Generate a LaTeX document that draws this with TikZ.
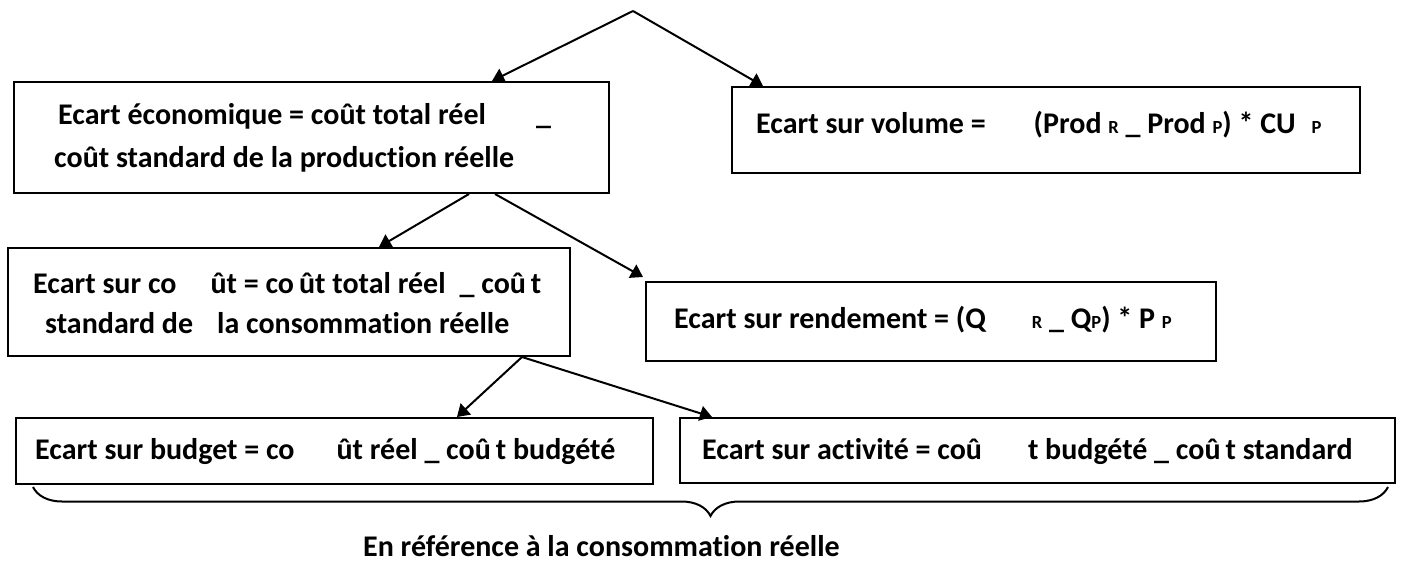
\documentclass[tikz,border=0pt]{standalone}
\usepackage{fontspec}
\setmainfont{Carlito}[Ligatures=NoCommon]
\usetikzlibrary{arrows.meta,decorations.pathreplacing}
\newcommand{\lowsub}[1]{{\fontsize{18.5}{18.5}\selectfont #1}}
\newcommand{\lowdash}{\_}
\begin{document}
\begin{tikzpicture}[x=1pt,y=-1pt,
  box/.style={draw, line width=2pt, rectangle, inner sep=0pt, anchor=north west},
  txt/.style={anchor=base west, inner sep=0pt, font=\fontsize{30}{35}\selectfont\bfseries},
  arr/.style={line width=2pt, -{Triangle[length=12pt,width=15pt]}},
  brace/.style={line width=2pt, decorate, decoration={brace, mirror, amplitude=29pt}}]
\useasboundingbox (0,0) rectangle (1402,564);
% boxes
\node[box, minimum width=595pt, minimum height=111pt] (b1) at (13,81) {};
\node[box, minimum width=628pt, minimum height=86pt] (b2) at (731,86) {};
\node[box, minimum width=562pt, minimum height=108pt] (b3) at (7,247) {};
\node[box, minimum width=570pt, minimum height=79pt] (b4) at (645,281) {};
\node[box, minimum width=637pt, minimum height=66pt] (b5) at (15,417) {};
\node[box, minimum width=715pt, minimum height=65pt] (b6) at (679,417) {};
% texts
\node[txt] (t1a) at (58,125) {Ecart économique = coût total réel\hspace{50pt}\lowdash};
\node[txt] (t1b) at (54,168) {coût standard de la production réelle};
\node[txt] (t2) at (756,134) {Ecart sur volume =\hspace{48pt}(Prod \lowsub{R} \lowdash{} Prod \lowsub{P}) * CU\hspace{16pt}\lowsub{P}};
\node[txt] (t3a) at (33,293) {Ecart sur co\hspace{34pt}ût = co\,ût total réel\hspace{14pt}\lowdash{} coû\,t};
\node[txt] (t3b) at (45,333) {standard de\hspace{24pt}la consommation réelle};
\node[txt] (t4) at (674,328) {Ecart sur rendement = (Q\hspace{46pt}\lowsub{R} \lowdash{} Q\lowsub{P}) * P \lowsub{P}};
\node[txt] (t5) at (35,459) {Ecart sur budget = co\hspace{42pt}ût réel \lowdash{} coû\,t budgété};
\node[txt] (t6) at (702,459) {Ecart sur activité = coû\hspace{46pt}t budgété \lowdash{} coû\,t standard};
\node[txt] (t7) at (363,556) {En référence à la consommation réelle};
% connectors
\coordinate (top) at (633,11);
\draw[arr] (top) -- ([xshift=479pt]b1.north west);
\draw[arr] (top) -- ([xshift=32pt]b2.north west);
\draw[arr] ([xshift=456pt]b1.south west) -- ([xshift=372pt]b3.north west);
\draw[arr] ([xshift=482pt]b1.south west) -- ([xshift=-2pt,yshift=4pt]b4.north west);
\draw[arr] ([xshift=515pt]b3.south west) -- ([xshift=442pt]b5.north west);
\draw[arr] ([xshift=515pt]b3.south west) -- ([xshift=33pt]b6.north west);
% brace
\coordinate (bl) at (33,487);
\coordinate (br) at (1388,487);
\draw[brace] (bl) -- (br);
\end{tikzpicture}
\end{document}
